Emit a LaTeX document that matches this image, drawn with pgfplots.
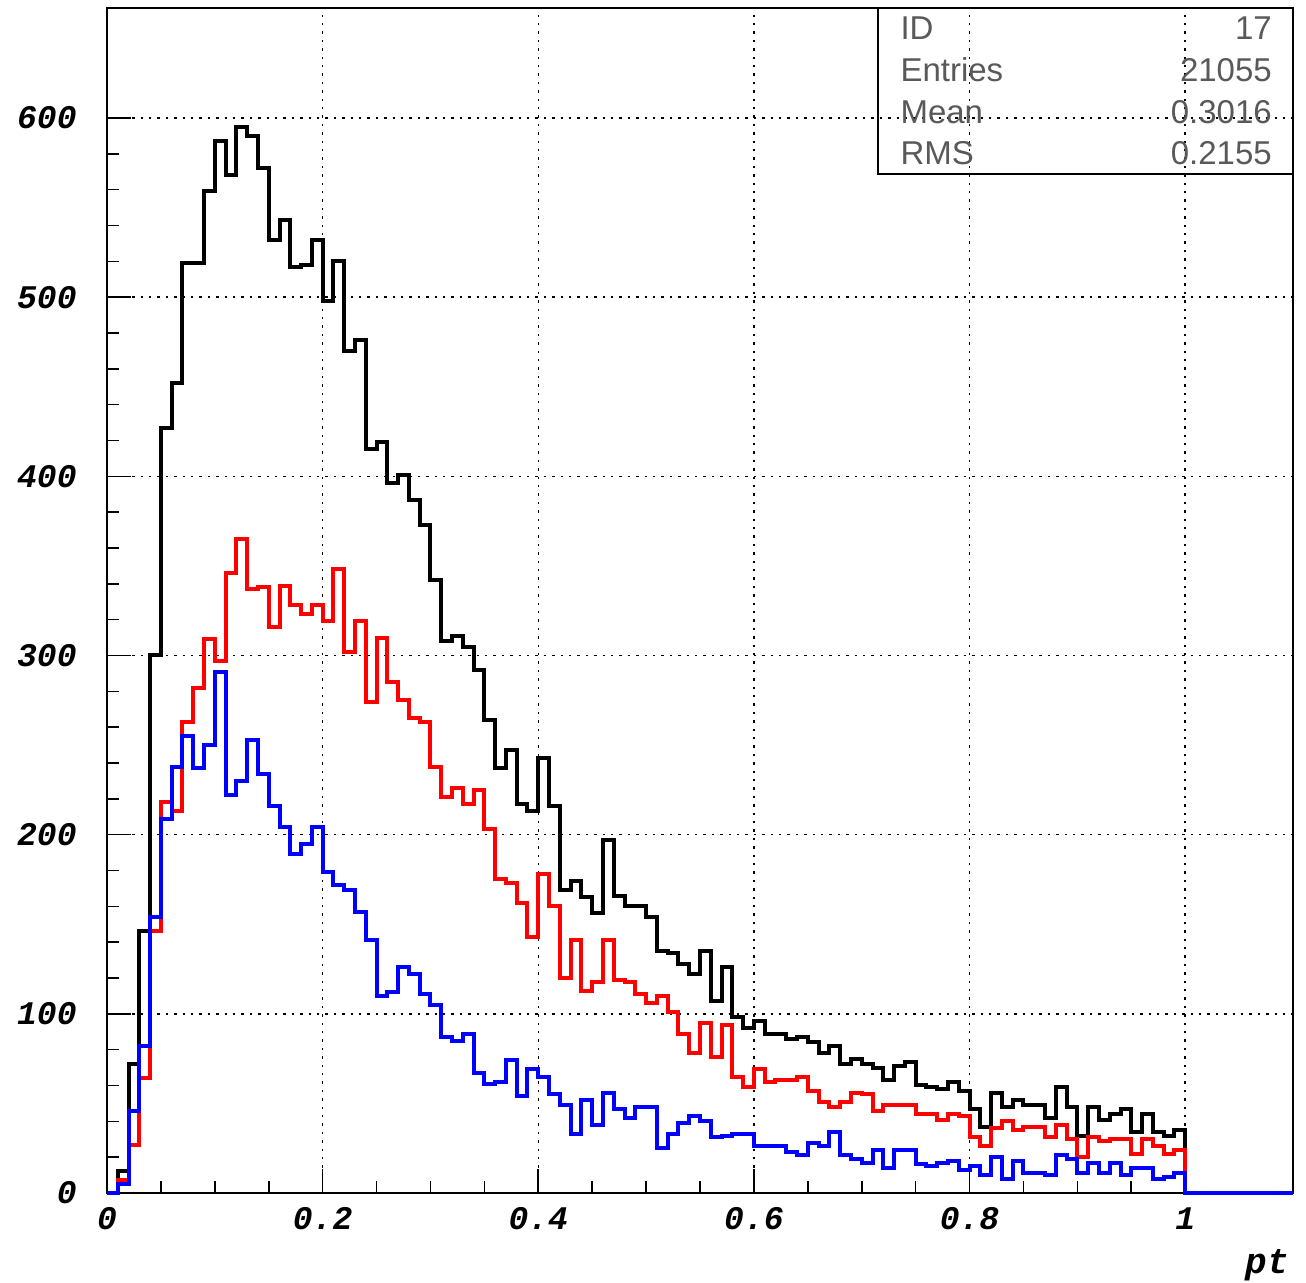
\documentclass[border=0pt]{standalone}
\usepackage{fontspec}
\usepackage{pgfplots}
\usepackage{pgfplotstable}
\pgfplotsset{compat=1.18}
\usetikzlibrary{calc}
\newfontfamily\ticfont{Liberation Mono}
\newfontfamily\statfont{Liberation Sans}

% bin left edge, then contents of the three histograms (bin width 0.01)
\pgfplotstableread{
x    blk  red  blu
0.00 0    0    0
0.01 12   7    5
0.02 72   27   46
0.03 146  64   82
0.04 300  146  154
0.05 427  218  209
0.06 452  213  238
0.07 519  263  255
0.08 519  282  237
0.09 559  309  250
0.10 587  297  291
0.11 568  346  222
0.12 595  365  230
0.13 590  337  253
0.14 572  338  234
0.15 532  316  216
0.16 543  339  204
0.17 517  328  189
0.18 518  323  195
0.19 532  328  204
0.20 498  319  179
0.21 520  348  172
0.22 470  302  169
0.23 476  319  157
0.24 415  274  141
0.25 419  310  110
0.26 396  285  112
0.27 401  275  126
0.28 387  265  122
0.29 373  263  111
0.30 342  238  105
0.31 308  221  87
0.32 311  226  85
0.33 305  217  89
0.34 292  225  67
0.35 264  203  61
0.36 237  175  62
0.37 247  173  74
0.38 217  162  54
0.39 213  143  69
0.40 243  178  65
0.41 216  160  55
0.42 169  120  49
0.43 174  141  33
0.44 165  113  52
0.45 156  118  38
0.46 197  141  56
0.47 166  119  47
0.48 160  118  42
0.49 160  111  48
0.50 154  106  48
0.51 135  110  25
0.52 134  101  33
0.53 128  89   39
0.54 122  78   43
0.55 135  95   40
0.56 107  76   31
0.57 126  94   32
0.58 98   65   33
0.59 92   59   33
0.60 96   69   26
0.61 89   62   26
0.62 89   63   26
0.63 86   63   23
0.64 87   65   21
0.65 84   57   28
0.66 78   51   26
0.67 82   48   34
0.68 72   51   21
0.69 75   56   19
0.70 72   55   17
0.71 70   46   24
0.72 63   49   14
0.73 71   49   24
0.74 73   49   24
0.75 60   44   16
0.76 59   44   15
0.77 58   41   17
0.78 62   44   18
0.79 57   43   13
0.80 47   31   15
0.81 37   26   10
0.82 56   36   20
0.83 48   40   8
0.84 52   35   18
0.85 49   37   11
0.86 49   37   11
0.87 42   31   10
0.88 59   38   21
0.89 48   30   19
0.90 32   20   11
0.91 48   31   17
0.92 41   29   11
0.93 44   30   17
0.94 47   30   10
0.95 34   22   14
0.96 44   30   14
0.97 34   26   8
0.98 32   22   9
0.99 35   24   11
1.00 0    0    0
1.10 0    0    0
}\histdata

\begin{document}
\begin{tikzpicture}
\begin{axis}[
    width=593bp, height=592.5bp,
    scale only axis,
    xmin=0, xmax=1.1,
    ymin=0, ymax=661.4,
    clip=false,
    axis line style={line width=0.8bp},
    xtick={0,0.2,0.4,0.6,0.8,1},
    xticklabels={0,0.2,0.4,0.6,0.8,1},
    ytick={0,100,200,300,400,500,600},
    yticklabels={0,100,200,300,400,500,600},
    minor x tick num=3,
    minor y tick num=4,
    xtick pos=left, ytick pos=left,
    tick align=inside,
    major tick length=12bp,
    minor tick length=6bp,
    every tick/.style={black, line width=0.8bp},
    grid=major,
    major grid style={black, line width=0.75bp, dash pattern=on 1.2bp off 3bp},
    tick label style={font=\ticfont\bfseries\itshape\fontsize{16.5bp}{18bp}\selectfont, inner sep=0pt},
    yticklabel style={anchor=east, xshift=-15bp},
    xticklabel style={anchor=north, yshift=-7bp},
    xlabel={pt},
    xlabel style={at={(rel axis cs:1,0)}, anchor=north east, yshift=-28bp, xshift=-2bp,
        inner sep=0pt, font=\ticfont\bfseries\itshape\fontsize{18bp}{20bp}\selectfont},
]
\addplot[const plot mark left, black, line width=2bp] table[x=x, y=blk] {\histdata};
\addplot[const plot mark left, red, line width=2bp] table[x=x, y=red] {\histdata};
\addplot[const plot mark left, blue, line width=2bp] table[x=x, y=blu] {\histdata};

% statistics box
\draw[black, line width=0.8bp] (axis cs:0.7152,568.7) rectangle (rel axis cs:1,1);
\begin{scope}[every node/.style={inner sep=0pt, text=black!65,
      font=\statfont\fontsize{16.5bp}{18bp}\selectfont}]
  \node[anchor=west] at (axis cs:0.7356,650.2) {ID};
  \node[anchor=west] at (axis cs:0.7356,626.8) {Entries};
  \node[anchor=west] at (axis cs:0.7356,603.3) {Mean};
  \node[anchor=west] at (axis cs:0.7356,580.4) {RMS};
  \node[anchor=east] at (axis cs:1.0807,650.2) {17};
  \node[anchor=east] at (axis cs:1.0807,626.8) {21055};
  \node[anchor=east] at (axis cs:1.0807,603.3) {0.3016};
  \node[anchor=east] at (axis cs:1.0807,580.4) {0.2155};
\end{scope}
\end{axis}
\pgfresetboundingbox
\path ($(current axis.south west)+(-53.5bp,-45bp)$) rectangle ($(current axis.north east)+(6.5bp,4bp)$);
\end{tikzpicture}
\end{document}
